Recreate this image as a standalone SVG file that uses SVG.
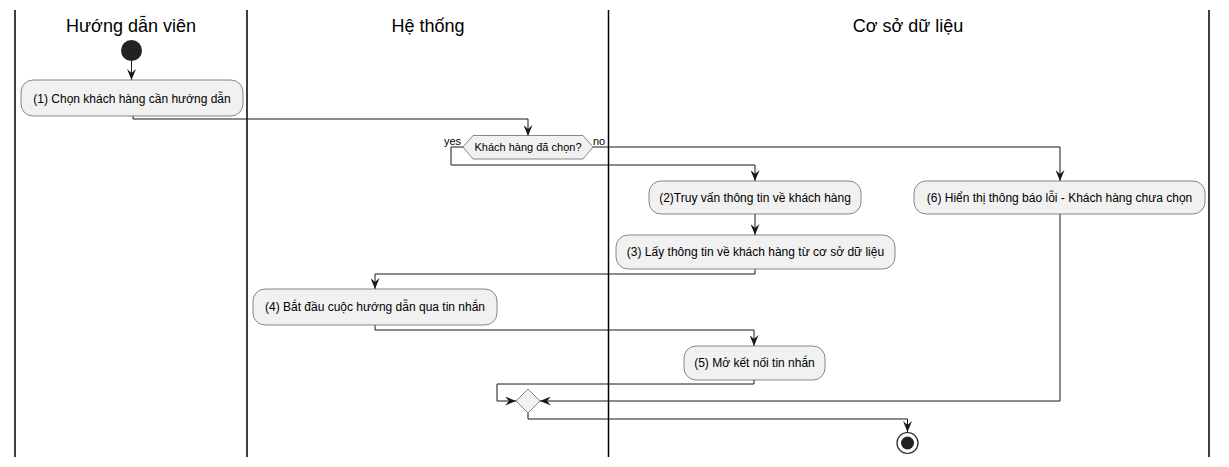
<svg xmlns="http://www.w3.org/2000/svg" width="1229" height="467" viewBox="0 0 1229 467">
<style>
.lane{stroke:#000;stroke-width:1.5;fill:none}
.title{font-family:"Liberation Sans",Arial,sans-serif;font-size:18px;fill:#000;text-anchor:middle}
.act{fill:#F1F1F1;stroke:#6a6a6a;stroke-width:0.8}
.txt{font-family:"Liberation Sans",Arial,sans-serif;font-size:12px;fill:#000;text-anchor:middle}
.small{font-family:"Liberation Sans",Arial,sans-serif;font-size:11px;fill:#000}
.conn{stroke:#181818;stroke-width:1;fill:none}
</style>
<defs>
<marker id="arr" viewBox="0 0 11 9" refX="11" refY="4.5" markerWidth="11" markerHeight="9" markerUnits="userSpaceOnUse" orient="auto">
<path d="M0,0 L11,4.5 L0,9 L4,4.5 Z" fill="#181818"/>
</marker>
</defs>
<rect width="1229" height="467" fill="#fff"/>
<g id="lanes">
<line class="lane" x1="15" y1="10" x2="15" y2="457"/>
<line class="lane" x1="247" y1="10" x2="247" y2="457"/>
<line class="lane" x1="608.5" y1="10" x2="608.5" y2="457"/>
<line class="lane" x1="1209" y1="10" x2="1209" y2="457"/>
<text class="title" x="131" y="32">Hướng dẫn viên</text>
<text class="title" x="428" y="32">Hệ thống</text>
<text class="title" x="908" y="32">Cơ sở dữ liệu</text>
</g>
<g id="connectors">
<path class="conn" d="M131.5,61 L131.5,80" marker-end="url(#arr)"/>
<path class="conn" d="M133,116 L133,119 L528,119 L528,136" marker-end="url(#arr)"/>
<path class="conn" d="M463,147 L451,147 L451,165 L755,165 L755,181" marker-end="url(#arr)"/>
<path class="conn" d="M593,147 L1060,147 L1060,181" marker-end="url(#arr)"/>
<path class="conn" d="M755,214 L755,235" marker-end="url(#arr)"/>
<path class="conn" d="M755,269 L755,274 L375,274 L375,289" marker-end="url(#arr)"/>
<path class="conn" d="M375,325 L375,330 L754,330 L754,346" marker-end="url(#arr)"/>
<path class="conn" d="M754,380 L754,384 L497,384 L497,401 L516,401" marker-end="url(#arr)"/>
<path class="conn" d="M1060,214 L1060,401 L540,401" marker-end="url(#arr)"/>
<path class="conn" d="M528,413 L528,419 L907.5,419 L907.5,432" marker-end="url(#arr)"/>
</g>
<g id="start">
<circle cx="131.5" cy="50.5" r="10.5" fill="#222"/>
</g>
<g id="n1">
<rect class="act" x="21" y="80" width="222" height="36" rx="12"/>
<text class="txt" x="132" y="102.5">(1) Chọn khách hàng cần hướng dẫn</text>
</g>
<g id="decision">
<polygon class="act" points="463,147 473,135.5 583,135.5 593,147 583,159 473,159"/>
<text class="small" x="528" y="151" text-anchor="middle">Khách hàng đã chọn?</text>
<text class="small" x="444" y="145">yes</text>
<text class="small" x="593" y="145">no</text>
</g>
<g id="n2">
<rect class="act" x="649" y="181" width="212" height="33" rx="12"/>
<text class="txt" x="755" y="201.5">(2)Truy vấn thông tin về khách hàng</text>
</g>
<g id="n3">
<rect class="act" x="616" y="235" width="279" height="34" rx="12"/>
<text class="txt" x="755.5" y="256">(3) Lấy thông tin về khách hàng từ cơ sở dữ liệu</text>
</g>
<g id="n4">
<rect class="act" x="253" y="289" width="244" height="36" rx="12"/>
<text class="txt" x="375" y="311">(4) Bắt đầu cuộc hướng dẫn qua tin nhắn</text>
</g>
<g id="n5">
<rect class="act" x="684" y="346" width="141" height="34" rx="12"/>
<text class="txt" x="754.5" y="367">(5) Mở kết nối tin nhắn</text>
</g>
<g id="n6">
<rect class="act" x="914" y="181" width="291" height="33" rx="12"/>
<text class="txt" x="1059.5" y="201.5">(6) Hiển thị thông báo lỗi - Khách hàng chưa chọn</text>
</g>
<g id="merge">
<polygon class="act" points="528,389 540,401 528,413 516,401"/>
</g>
<g id="end">
<circle cx="907.5" cy="443" r="10.5" fill="#fff" stroke="#222" stroke-width="1.2"/>
<circle cx="907.5" cy="443" r="6.5" fill="#222"/>
</g>
</svg>
